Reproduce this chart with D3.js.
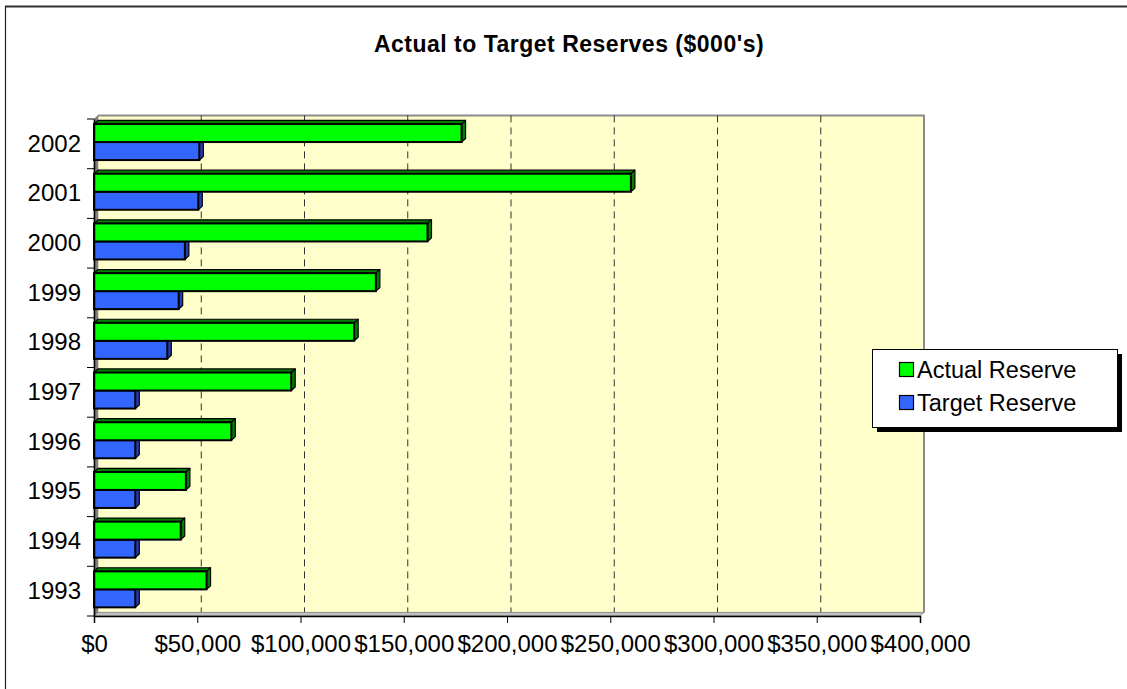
<!DOCTYPE html>
<html>
<head>
<meta charset="utf-8">
<script src="https://cdn.jsdelivr.net/npm/d3@7"></script>
<style>
  html, body { margin: 0; padding: 0; background: #fff; }
  svg { display: block; font-family: "Liberation Sans", Arial, sans-serif; }
</style>
</head>
<body>
<svg id="chart" width="1127" height="689"></svg>
<script>
// Reserve figures in thousands of dollars, by year
const years = ["1993", "1994", "1995", "1996", "1997", "1998", "1999", "2000", "2001", "2002"];
const actualReserve = [54500, 42000, 44500, 66500, 95500, 126000, 136500, 161500, 260000, 178000];
const targetReserve = [20000, 20000, 20000, 20000, 20000, 35500, 41000, 44000, 50500, 51000];
const seriesNames = ["Actual Reserve", "Target Reserve"];
const seriesColors = ["#00FF00", "#3366FF"];
const seriesSide = ["#008000", "#1F3FB8"];
const xTicks = [0, 50000, 100000, 150000, 200000, 250000, 300000, 350000, 400000];

const svg = d3.select("#chart");

// front plane of the plot and the 3D depth offset
const plotLeft = 94, plotRight = 920, plotTop = 119, plotBottom = 616;
const dx = 4, dy = 3.6;

const x = d3.scaleLinear().domain([0, 400000]).range([plotLeft, plotRight]);
const y = d3.scaleBand().domain(years.slice().reverse()).range([plotTop, plotBottom]);
const inner = d3.scaleBand().domain(seriesNames).range([0, y.bandwidth()]).paddingOuter(0.38);

// outer chart frame
svg.append("line").attr("x1", 5).attr("x2", 1127).attr("y1", 6.5).attr("y2", 6.5)
  .attr("stroke", "#333").attr("stroke-width", 2);
svg.append("line").attr("x1", 5.5).attr("x2", 5.5).attr("y1", 6).attr("y2", 689)
  .attr("stroke", "#222").attr("stroke-width", 1.2);

// title
svg.append("text").attr("x", 569).attr("y", 52).attr("text-anchor", "middle")
  .attr("font-size", 23).attr("font-weight", "bold").attr("letter-spacing", 0.5).attr("fill", "#000")
  .text("Actual to Target Reserves ($000's)");

// back wall
svg.append("rect").attr("x", plotLeft + dx).attr("y", plotTop - dy)
  .attr("width", plotRight - plotLeft).attr("height", plotBottom - plotTop)
  .attr("fill", "#FFFFCC");
svg.append("path")
  .attr("d", `M${plotLeft + dx},${plotTop - dy}H${plotRight + dx}V${plotBottom - dy}`)
  .attr("fill", "none").attr("stroke", "#8c8c8c").attr("stroke-width", 2);

// dashed gridlines on the back wall
svg.append("g").selectAll("line")
  .data(xTicks.filter(v => v > 0 && v < 400000))
  .join("line")
  .attr("x1", d => x(d) + dx).attr("x2", d => x(d) + dx)
  .attr("y1", plotTop - dy).attr("y2", plotBottom - dy)
  .attr("stroke", "#333").attr("stroke-width", 1)
  .attr("stroke-dasharray", "7,5");

// side wall and floor
svg.append("path")
  .attr("d", `M${plotLeft},${plotBottom}V${plotTop}L${plotLeft + dx},${plotTop - dy}V${plotBottom - dy}Z`)
  .attr("fill", "#808080").attr("stroke", "#777").attr("stroke-width", 0.5);
svg.append("path")
  .attr("d", `M${plotLeft},${plotBottom}L${plotLeft + dx},${plotBottom - dy}H${plotRight + dx}L${plotRight},${plotBottom}Z`)
  .attr("fill", "#c0c0c0").attr("stroke", "#8c8c8c").attr("stroke-width", 1);

// bars: each is a front face plus top and side faces
const rows = years.map((yr, i) => ({ year: yr, values: [actualReserve[i], targetReserve[i]] }));
const barH = inner.bandwidth();
const barsG = svg.append("g");
rows.forEach(row => {
  // lower series first so the upper bar's face covers its top
  [1, 0].forEach(s => {
    const v = row.values[s];
    const x0 = x(0), x1 = x(v);
    const y0 = y(row.year) + inner(seriesNames[s]) - dy / 2;
    const y1 = y0 + barH;
    const g = barsG.append("g");
    g.append("path")
      .attr("d", `M${x0},${y0}L${x0 + dx},${y0 - dy}H${x1 + dx}L${x1},${y0}Z`)
      .attr("fill", seriesSide[s]).attr("stroke", "#000").attr("stroke-width", 1.2)
      .attr("stroke-linejoin", "round");
    g.append("path")
      .attr("d", `M${x1},${y0}L${x1 + dx},${y0 - dy}V${y1 - dy}L${x1},${y1}Z`)
      .attr("fill", seriesSide[s]).attr("stroke", "#000").attr("stroke-width", 1.2)
      .attr("stroke-linejoin", "round");
    g.append("rect")
      .attr("x", x0).attr("y", y0).attr("width", x1 - x0).attr("height", barH)
      .attr("fill", seriesColors[s]).attr("stroke", "#000").attr("stroke-width", 2);
  });
});

// value axis
const xAxis = svg.append("g").attr("transform", `translate(0,${plotBottom})`)
  .call(d3.axisBottom(x).tickValues(xTicks).tickFormat(d3.format("$,")).tickSize(7).tickPadding(12));
xAxis.select(".domain").attr("stroke", "#000").attr("stroke-width", 1.5);
xAxis.selectAll(".tick line").attr("stroke", "#000");
xAxis.selectAll("text").attr("font-size", 24).attr("fill", "#000")
  .attr("font-family", "\"Liberation Sans\", Arial, sans-serif");

// category axis: labels centred on bands, ticks on band edges
const yAxis = svg.append("g").attr("transform", `translate(${plotLeft},0)`)
  .call(d3.axisLeft(y).tickSize(0).tickPadding(13));
yAxis.select(".domain").attr("stroke", "#000").attr("stroke-width", 1.5);
yAxis.selectAll("text").attr("font-size", 24).attr("fill", "#000")
  .attr("font-family", "\"Liberation Sans\", Arial, sans-serif");
svg.append("g").selectAll("line")
  .data(years.map(d => y(d)).concat([plotBottom]))
  .join("line")
  .attr("x1", plotLeft - 7).attr("x2", plotLeft).attr("y1", d => d).attr("y2", d => d)
  .attr("stroke", "#000").attr("stroke-width", 1);

// legend
const lg = svg.append("g").attr("transform", "translate(872,349)");
lg.append("rect").attr("x", 5).attr("y", 5).attr("width", 245).attr("height", 78).attr("fill", "#000");
lg.append("rect").attr("x", 0.5).attr("y", 0.5).attr("width", 245).attr("height", 78)
  .attr("fill", "#fff").attr("stroke", "#000").attr("stroke-width", 1);
seriesNames.forEach((name, i) => {
  const ly = 13 + i * 33;
  lg.append("rect").attr("x", 27.5).attr("y", ly + 0.5).attr("width", 14).attr("height", 14)
    .attr("fill", seriesColors[i]).attr("stroke", "#000").attr("stroke-width", 1.2);
  lg.append("text").attr("x", 45).attr("y", ly + 16).attr("font-size", 23.5).attr("fill", "#000")
    .text(name);
});
</script>
</body>
</html>
